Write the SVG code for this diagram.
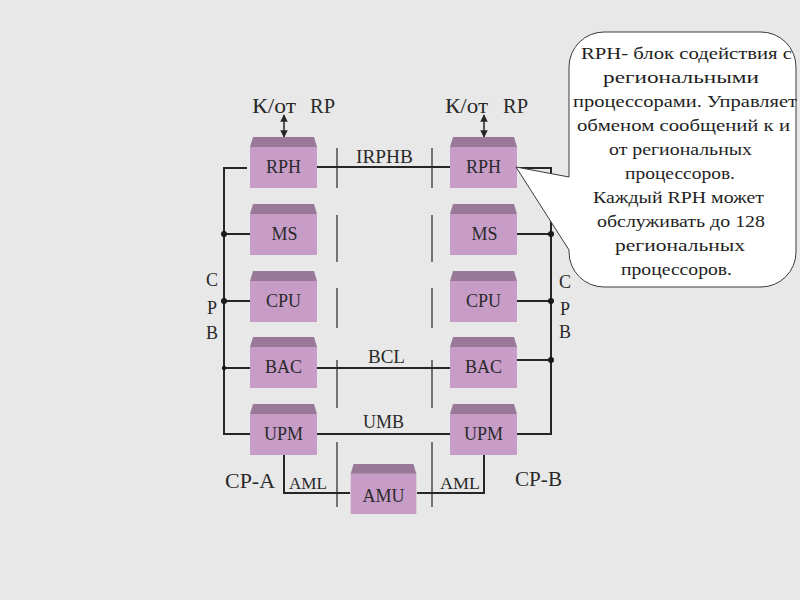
<svg xmlns="http://www.w3.org/2000/svg" width="800" height="600" viewBox="0 0 800 600" font-family="'Liberation Serif', 'Times New Roman', 'DejaVu Serif', serif">
<defs>
<style>
text{font-family:'Liberation Serif','Times New Roman','DejaVu Serif',serif;fill:#2a2a2a}
.lbl{font-size:18px;text-anchor:middle}
.bus{fill:none;stroke:#262626;stroke-width:2}
.div{fill:none;stroke:#262626;stroke-width:1.2}
.body{fill:#c79dc8}
.top{fill:#9a789a}
.dot{fill:#1a1a1a}
.co{font-size:17px;text-anchor:middle;fill:#1e1e1e}
</style>
<marker id="ah" viewBox="0 0 10 10" refX="9" refY="5" markerWidth="5" markerHeight="5" orient="auto-start-reverse">
<path d="M0,0 L10,5 L0,10 Z" fill="#262626"/>
</marker>
<symbol id="box" viewBox="0 0 67 51">
<rect x="0" y="10" width="67" height="41" class="body"/>
<polygon points="3,0 64,0 67,10 0,10" class="top"/>
</symbol>
</defs>
<rect width="800" height="600" fill="#e8e8e8"/>

<g id="connectors">
<path class="bus" d="M247,168 H224 V434 H250"/>
<path class="bus" d="M224,234 H252 M224,301 H252 M224,368 H250"/>
<path class="bus" d="M517,168 H551 V434 H517"/>
<path class="bus" d="M517,234 H551 M517,301 H551 M517,360 H551"/>
<path class="bus" d="M317,167 H450 M317,368 H450 M317,434 H450"/>
<path class="bus" d="M284,454 V493 H350 M417,493 H484 V454"/>
<circle class="dot" cx="224" cy="234" r="3"/>
<circle class="dot" cx="224" cy="301" r="3"/>
<circle class="dot" cx="224" cy="368" r="2.2"/>
<circle class="dot" cx="551" cy="234" r="3"/>
<circle class="dot" cx="551" cy="301" r="3"/>
<circle class="dot" cx="551" cy="360" r="3"/>
<path class="div" d="M337,148 V188 M337,215 V262 M337,288 V328 M337,360 V408 M337,442 V507"/>
<path class="div" d="M432,148 V188 M432,215 V262 M432,288 V328 M432,360 V408 M432,442 V507"/>
<line x1="284" y1="115" x2="284" y2="137" stroke="#262626" stroke-width="1.5" marker-start="url(#ah)" marker-end="url(#ah)"/>
<line x1="484" y1="115" x2="484" y2="137" stroke="#262626" stroke-width="1.5" marker-start="url(#ah)" marker-end="url(#ah)"/>
<text x="384.5" y="163" class="lbl" textLength="57" lengthAdjust="spacingAndGlyphs">IRPHB</text>
<text x="386.5" y="363" class="lbl" textLength="37" lengthAdjust="spacingAndGlyphs">BCL</text>
<text x="383.5" y="428" class="lbl" textLength="41" lengthAdjust="spacingAndGlyphs">UMB</text>
<text x="308" y="489" class="lbl" style="font-size:16px" textLength="38" lengthAdjust="spacingAndGlyphs">AML</text>
<text x="460" y="489" class="lbl" style="font-size:16px" textLength="40" lengthAdjust="spacingAndGlyphs">AML</text>
</g>

<g id="rph-a"><use href="#box" x="250" y="137" width="67" height="51"/><text x="283.5" y="173" class="lbl">RPH</text></g>
<g id="ms-a"><use href="#box" x="250" y="204" width="67" height="51"/><text x="284.5" y="240" class="lbl">MS</text></g>
<g id="cpu-a"><use href="#box" x="250" y="271" width="67" height="51"/><text x="283.5" y="307" class="lbl">CPU</text></g>
<g id="bac-a"><use href="#box" x="250" y="337" width="67" height="51"/><text x="283.5" y="373" class="lbl">BAC</text></g>
<g id="upm-a"><use href="#box" x="250" y="404" width="67" height="51"/><text x="283.5" y="440" class="lbl">UPM</text></g>

<g id="rph-b"><use href="#box" x="450" y="137" width="67" height="51"/><text x="483.5" y="173" class="lbl">RPH</text></g>
<g id="ms-b"><use href="#box" x="450" y="204" width="67" height="51"/><text x="484.5" y="240" class="lbl">MS</text></g>
<g id="cpu-b"><use href="#box" x="450" y="271" width="67" height="51"/><text x="483.5" y="307" class="lbl">CPU</text></g>
<g id="bac-b"><use href="#box" x="450" y="337" width="67" height="51"/><text x="483.5" y="373" class="lbl">BAC</text></g>
<g id="upm-b"><use href="#box" x="450" y="404" width="67" height="51"/><text x="483.5" y="440" class="lbl">UPM</text></g>

<g id="amu"><use href="#box" x="350" y="464" width="67" height="50"/><text x="383.5" y="502" class="lbl">AMU</text></g>

<g id="labels">
<text x="252" y="113" style="font-size:20px" textLength="44" lengthAdjust="spacingAndGlyphs">К/от</text>
<text x="310" y="113" style="font-size:20px" textLength="25" lengthAdjust="spacingAndGlyphs">RP</text>
<text x="445" y="113" style="font-size:20px" textLength="43" lengthAdjust="spacingAndGlyphs">К/от</text>
<text x="503" y="113" style="font-size:20px" textLength="25" lengthAdjust="spacingAndGlyphs">RP</text>
<text x="212" y="286" class="lbl">C</text>
<text x="212" y="314" class="lbl">P</text>
<text x="212" y="339" class="lbl">B</text>
<text x="565" y="288" class="lbl">C</text>
<text x="565" y="315" class="lbl">P</text>
<text x="565" y="338" class="lbl">B</text>
<text x="250" y="488" class="lbl" style="font-size:20px" textLength="50" lengthAdjust="spacingAndGlyphs">CP-A</text>
<text x="538.5" y="486" class="lbl" style="font-size:20px" textLength="47" lengthAdjust="spacingAndGlyphs">CP-B</text>
</g>

<g id="callout">
<path d="M569,177 V67 A35,35 0 0 1 604,32 H761 A35,35 0 0 1 796,67 V252 A35,35 0 0 1 761,287 H604 A35,35 0 0 1 569,252 V250 L516,167 Z" fill="#ffffff" stroke="#3a3a3a" stroke-width="1"/>
<text class="co" x="686.5" y="59" textLength="211" lengthAdjust="spacingAndGlyphs">RPH- блок содействия с</text>
<text class="co" x="681" y="83" textLength="156" lengthAdjust="spacingAndGlyphs">региональными</text>
<text class="co" x="685" y="107" textLength="224" lengthAdjust="spacingAndGlyphs">процессорами. Управляет</text>
<text class="co" x="683.5" y="131" textLength="213" lengthAdjust="spacingAndGlyphs">обменом сообщений к и</text>
<text class="co" x="680.5" y="155" textLength="143" lengthAdjust="spacingAndGlyphs">от региональных</text>
<text class="co" x="680" y="179" textLength="110" lengthAdjust="spacingAndGlyphs">процессоров.</text>
<text class="co" x="678.5" y="203" textLength="171" lengthAdjust="spacingAndGlyphs">Каждый RPH может</text>
<text class="co" x="681" y="227" textLength="168" lengthAdjust="spacingAndGlyphs">обслуживать до 128</text>
<text class="co" x="680" y="251" textLength="130" lengthAdjust="spacingAndGlyphs">региональных</text>
<text class="co" x="676.5" y="275" textLength="111" lengthAdjust="spacingAndGlyphs">процессоров.</text>
</g>
</svg>
